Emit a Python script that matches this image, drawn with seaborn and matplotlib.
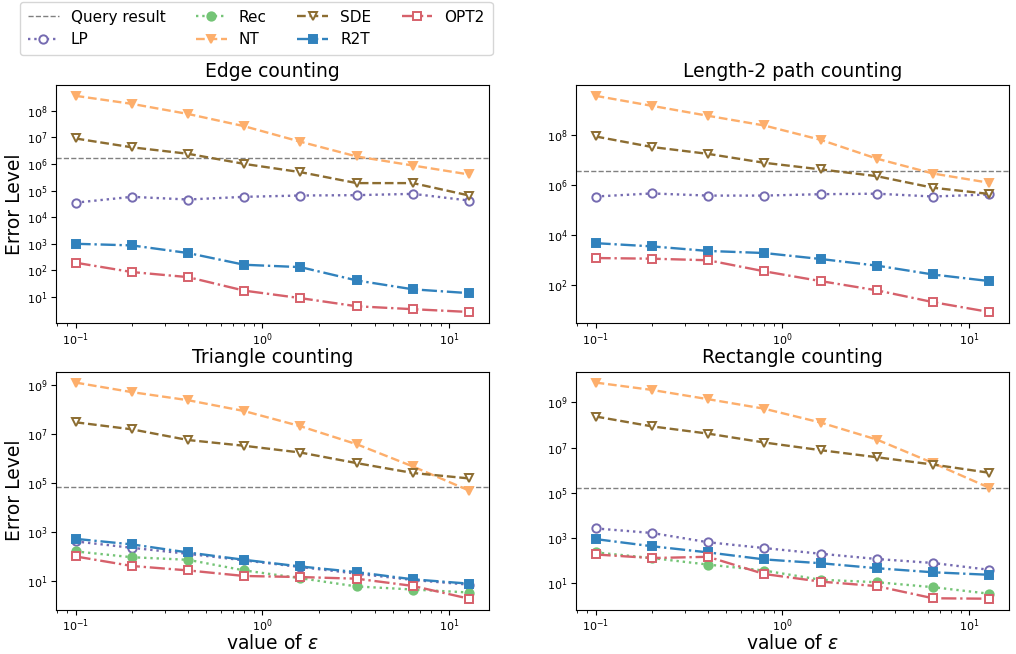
import numpy as np
import pandas as pd
import matplotlib
matplotlib.use("Agg")
import matplotlib.pyplot as plt
import seaborn as sns
from matplotlib.lines import Line2D
from matplotlib.ticker import LogLocator

# ---------------- data ----------------
eps = [0.1, 0.2, 0.4, 0.8, 1.6, 3.2, 6.4, 12.8]

titles = ["Edge counting", "Length-2 path counting", "Triangle counting", "Rectangle counting"]

query_result = [1.7e6, 3.6e6, 7.0e4, 1.66e5]

edge_LP   = [3.5e4, 5.8e4, 4.6e4, 5.8e4, 6.5e4, 6.7e4, 7.5e4, 4.2e4]
edge_NT   = [3.6e8, 1.8e8, 7.5e7, 2.6e7, 6.8e6, 1.9e6, 8.7e5, 4.0e5]
edge_SDE  = [9.0e6, 4.2e6, 2.4e6, 1.0e6, 4.9e5, 1.9e5, 1.9e5, 6.5e4]
edge_R2T  = [1000, 870, 450, 163, 133, 42, 19.5, 14]
edge_OPT2 = [195, 87, 56, 17.4, 9.1, 4.5, 3.5, 2.75]

path_LP   = [3.4e5, 4.5e5, 3.7e5, 3.7e5, 4.2e5, 4.4e5, 3.4e5, 4.1e5]
path_NT   = [3.5e9, 1.4e9, 5.6e8, 2.3e8, 6.2e7, 1.1e7, 2.8e6, 1.2e6]
path_SDE  = [8.4e7, 3.2e7, 1.7e7, 7.5e6, 4.1e6, 2.2e6, 7.6e5, 4.3e5]
path_R2T  = [4700, 3500, 2300, 1900, 1100, 600, 265, 145]
path_OPT2 = [1200, 1130, 980, 355, 145, 62, 21, 8.5]

tri_LP   = [410, 225, 128, 69, 37, 20, 11, 7.1]
tri_Rec  = [160, 93, 73, 27, 13, 6, 4.5, 3.4]
tri_NT   = [1.2e9, 4.9e8, 2.3e8, 8.3e7, 2.0e7, 3.7e6, 4.6e5, 4.8e4]
tri_SDE  = [2.9e7, 1.5e7, 5.5e6, 3.2e6, 1.7e6, 6.3e5, 2.5e5, 1.5e5]
tri_R2T  = [520, 310, 145, 73, 39, 23, 11.7, 7.8]
tri_OPT2 = [100, 41, 27, 16, 14.5, 12.4, 6.3, 1.9]

rect_LP   = [2700, 1700, 660, 365, 205, 120, 80, 40]
rect_Rec  = [235, 132, 68, 37, 14.5, 11.3, 6.8, 3.5]
rect_NT   = [7.6e9, 3.6e9, 1.4e9, 5.3e8, 1.3e8, 2.3e7, 2.1e6, 1.7e5]
rect_SDE  = [2.4e8, 8.8e7, 4.2e7, 1.7e7, 7.8e6, 3.8e6, 1.8e6, 7.8e5]
rect_R2T  = [910, 440, 235, 115, 78, 47, 31, 24]
rect_OPT2 = [190, 132, 150, 26, 12, 7.6, 2.2, 2.1]

# y tick decades shown on each panel
yticks_exp = [
    [1, 2, 3, 4, 5, 6, 7, 8],
    [2, 4, 6, 8],
    [1, 3, 5, 7, 9],
    [1, 3, 5, 7, 9],
]

panels = [
    {"LP": edge_LP, "NT": edge_NT, "SDE": edge_SDE, "R2T": edge_R2T, "OPT2": edge_OPT2},
    {"LP": path_LP, "NT": path_NT, "SDE": path_SDE, "R2T": path_R2T, "OPT2": path_OPT2},
    {"LP": tri_LP, "Rec": tri_Rec, "NT": tri_NT, "SDE": tri_SDE, "R2T": tri_R2T, "OPT2": tri_OPT2},
    {"LP": rect_LP, "Rec": rect_Rec, "NT": rect_NT, "SDE": rect_SDE, "R2T": rect_R2T, "OPT2": rect_OPT2},
]

# ---------------- styles ----------------
styles = {
    "LP":   dict(color="#756bb1", ls=":",  marker="o", open=True),
    "Rec":  dict(color="#74c476", ls=":",  marker="o", open=False),
    "NT":   dict(color="#fdae6b", ls="--", marker="v", open=False),
    "SDE":  dict(color="#8c6d31", ls="--", marker="v", open=True),
    "R2T":  dict(color="#3182bd", ls="-.", marker="s", open=False),
    "OPT2": dict(color="#d6616b", ls="-.", marker="s", open=True),
}
order = ["LP", "Rec", "NT", "SDE", "R2T", "OPT2"]

def kw(name):
    s = styles[name]
    return dict(color=s["color"], linestyle=s["ls"], marker=s["marker"],
                markersize=6, linewidth=1.7,
                markerfacecolor="white" if s["open"] else s["color"],
                markeredgecolor=s["color"], markeredgewidth=1.4)

fig, axes = plt.subplots(2, 2, figsize=(10.16, 6.54), dpi=100)
fig.subplots_adjust(left=0.055, right=0.993, top=0.870, bottom=0.068,
                    wspace=0.201, hspace=0.206)

for i, ax in enumerate(axes.flat):
    data = panels[i]
    ax.axhline(query_result[i], color="gray", linestyle="--", linewidth=1)
    for name in order:
        if name not in data:
            continue
        df = pd.DataFrame({"eps": eps, "err": data[name]})
        sns.lineplot(data=df, x="eps", y="err", ax=ax, **kw(name))
    ax.set_xscale("log")
    ax.set_yscale("log")
    ax.set_yticks([10.0 ** e for e in yticks_exp[i]])
    ax.yaxis.set_minor_locator(matplotlib.ticker.NullLocator())
    ax.tick_params(axis="both", which="major", labelsize=8, pad=2.5)
    ax.set_title(titles[i], fontsize=13.5)
    ax.set_xlabel("value of $\\varepsilon$" if i >= 2 else "", fontsize=13.5, labelpad=0)
    ax.set_ylabel("Error Level" if i % 2 == 0 else "", fontsize=13.5, labelpad=2)

handles = [Line2D([], [], color="gray", linestyle="--", linewidth=1)]
labels = ["Query result"]
for name in order:
    handles.append(Line2D([], [], **kw(name)))
    labels.append(name)

fig.legend(handles, labels, loc="upper left", bbox_to_anchor=(0.02, 0.997),
           borderaxespad=0, ncol=4, fontsize=11, columnspacing=2.0, borderpad=0.5)

fig.savefig("out.png", dpi=100)
